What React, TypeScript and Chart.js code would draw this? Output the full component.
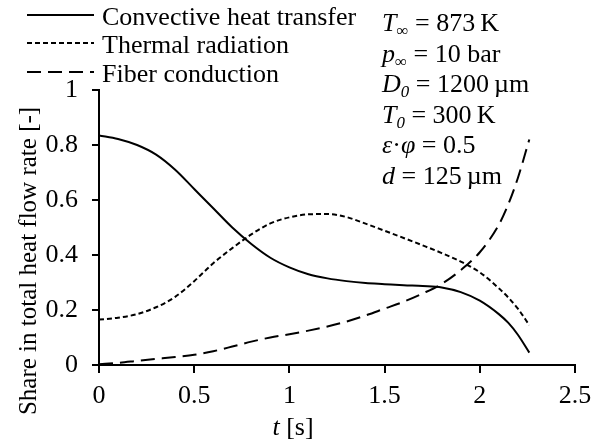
import React, { useEffect, useRef } from "react";
import { Chart, registerables } from "chart.js";

Chart.register(...registerables);

const timeS = [0, 0.1, 0.2, 0.3, 0.4, 0.5, 0.6, 0.7, 0.8, 0.9, 1.0, 1.1, 1.2, 1.3, 1.4, 1.5, 1.6, 1.7, 1.8, 1.9, 2.0, 2.1, 2.15, 2.2, 2.26];
const convective = [0.835, 0.822, 0.8, 0.765, 0.71, 0.64, 0.57, 0.5, 0.44, 0.39, 0.355, 0.33, 0.315, 0.305, 0.298, 0.294, 0.29, 0.287, 0.282, 0.265, 0.234, 0.185, 0.153, 0.11, 0.045];
const radiation = [0.165, 0.172, 0.185, 0.21, 0.248, 0.305, 0.37, 0.425, 0.475, 0.515, 0.537, 0.548, 0.549, 0.538, 0.514, 0.488, 0.462, 0.435, 0.407, 0.376, 0.337, 0.279, 0.245, 0.205, 0.145];
const fiber = [0.003, 0.008, 0.015, 0.022, 0.029, 0.037, 0.05, 0.067, 0.085, 0.1, 0.112, 0.125, 0.14, 0.158, 0.18, 0.205, 0.23, 0.26, 0.295, 0.345, 0.41, 0.51, 0.585, 0.68, 0.82];

const seriesNames = ["Convective heat transfer", "Thermal radiation", "Fiber conduction"];
const seriesDash: number[][] = [[], [5, 3], [14, 7]];
const xTicks = [0, 0.5, 1, 1.5, 2, 2.5];
const yTicks = [0, 0.2, 0.4, 0.6, 0.8, 1];

type Seg = { t: string; i?: boolean; sub?: boolean };
const annotations: Seg[][] = [
  [{ t: "T", i: true }, { t: "∞", sub: true }, { t: " = 873\u2009K" }],
  [{ t: "p", i: true }, { t: "∞", sub: true }, { t: " = 10 bar" }],
  [{ t: "D", i: true }, { t: "0", i: true, sub: true }, { t: " = 1200\u2009µm" }],
  [{ t: "T", i: true }, { t: "0", i: true, sub: true }, { t: " = 300\u2009K" }],
  [{ t: "ε", i: true }, { t: "·" }, { t: "φ", i: true }, { t: " = 0.5" }],
  [{ t: "d", i: true }, { t: " = 125\u2009µm" }],
];

const FONT = '"Liberation Serif", "Times New Roman", serif';
const SIZE = 26;

function drawRich(ctx: CanvasRenderingContext2D, x: number, y: number, segs: Seg[], measureOnly = false): number {
  let cx = x;
  for (const s of segs) {
    const fs = s.sub ? SIZE * 0.65 : SIZE;
    ctx.font = `${s.i ? "italic " : ""}${fs}px ${FONT}`;
    const dy = s.sub ? SIZE * 0.2 : 0;
    if (!measureOnly) ctx.fillText(s.t, cx, y + dy);
    cx += ctx.measureText(s.t).width;
  }
  return cx - x;
}

const overlay = {
  id: "overlay",
  afterDraw(chart: any) {
    const ctx: CanvasRenderingContext2D = chart.ctx;
    ctx.save();
    ctx.fillStyle = "#000";
    ctx.strokeStyle = "#000";
    ctx.textBaseline = "alphabetic";
    ctx.textAlign = "left";
    // legend
    const legY = [25, 53, 82];
    seriesNames.forEach((name, k) => {
      ctx.lineWidth = 2;
      ctx.setLineDash(seriesDash[k]);
      ctx.beginPath();
      ctx.moveTo(27, legY[k] - 10);
      ctx.lineTo(94, legY[k] - 10);
      ctx.stroke();
      ctx.setLineDash([]);
      ctx.font = `${SIZE}px ${FONT}`;
      ctx.fillText(name, 102, legY[k]);
    });
    // annotations
    const annY = [31, 62, 92, 123, 153, 184];
    annotations.forEach((segs, k) => drawRich(ctx, 382, annY[k], segs));
    // x title
    const xt: Seg[] = [{ t: "t", i: true }, { t: " [s]" }];
    const w = drawRich(ctx, 0, 0, xt, true);
    drawRich(ctx, 293 - w / 2, 435, xt);
    // y title
    ctx.translate(36, 261);
    ctx.rotate(-Math.PI / 2);
    ctx.textAlign = "center";
    ctx.font = `25px ${FONT}`;
    ctx.fillText("Share in total heat flow rate [-]", 0, 0);
    ctx.restore();
  },
};

export default function App() {
  const ref = useRef<HTMLCanvasElement>(null);
  useEffect(() => {
    if (!ref.current) return;
    const mk = (vals: number[]) => timeS.map((t, i) => ({ x: t, y: vals[i] }));
    const all = [convective, radiation, fiber];
    const chart = new Chart(ref.current, {
      type: "line",
      data: {
        datasets: all.map((vals, k) => ({
          label: seriesNames[k],
          data: mk(vals),
          borderColor: "#000",
          borderWidth: 2,
          borderDash: seriesDash[k],
          pointRadius: 0,
          fill: false,
          cubicInterpolationMode: "monotone" as const,
        })),
      },
      options: {
        responsive: false,
        animation: false,
        layout: { padding: { top: 90, right: 33, left: 0, bottom: 0 } },
        plugins: { legend: { display: false }, tooltip: { enabled: false } },
        scales: {
          x: {
            type: "linear",
            min: 0,
            max: 2.5,
            afterBuildTicks: (s: any) => { s.ticks = xTicks.map((v) => ({ value: v })); },
            afterFit: (s: any) => { s.height = 83; },
            ticks: { color: "#000", font: { family: FONT, size: SIZE }, padding: 8, maxRotation: 0, callback: (v: any) => String(v) },
            grid: { display: true, drawOnChartArea: false, drawTicks: true, tickLength: 8, color: "#000", lineWidth: 2 },
            border: { display: true, color: "#000", width: 2 },
          },
          y: {
            type: "linear",
            min: 0,
            max: 1,
            afterBuildTicks: (s: any) => { s.ticks = yTicks.map((v) => ({ value: v })); },
            afterFit: (s: any) => { s.width = 99; },
            ticks: { color: "#000", font: { family: FONT, size: SIZE }, padding: 14, callback: (v: any) => String(v) },
            grid: { display: true, drawOnChartArea: false, drawTicks: true, tickLength: 7, color: "#000", lineWidth: 2 },
            border: { display: true, color: "#000", width: 2 },
          },
        },
      },
      plugins: [overlay],
    });
    return () => chart.destroy();
  }, []);
  return (
    <div style={{ position: "fixed", left: 0, top: 0, width: 608, height: 448, background: "#fff" }}>
      <canvas ref={ref} width={608} height={448} style={{ display: "block" }} />
    </div>
  );
}
